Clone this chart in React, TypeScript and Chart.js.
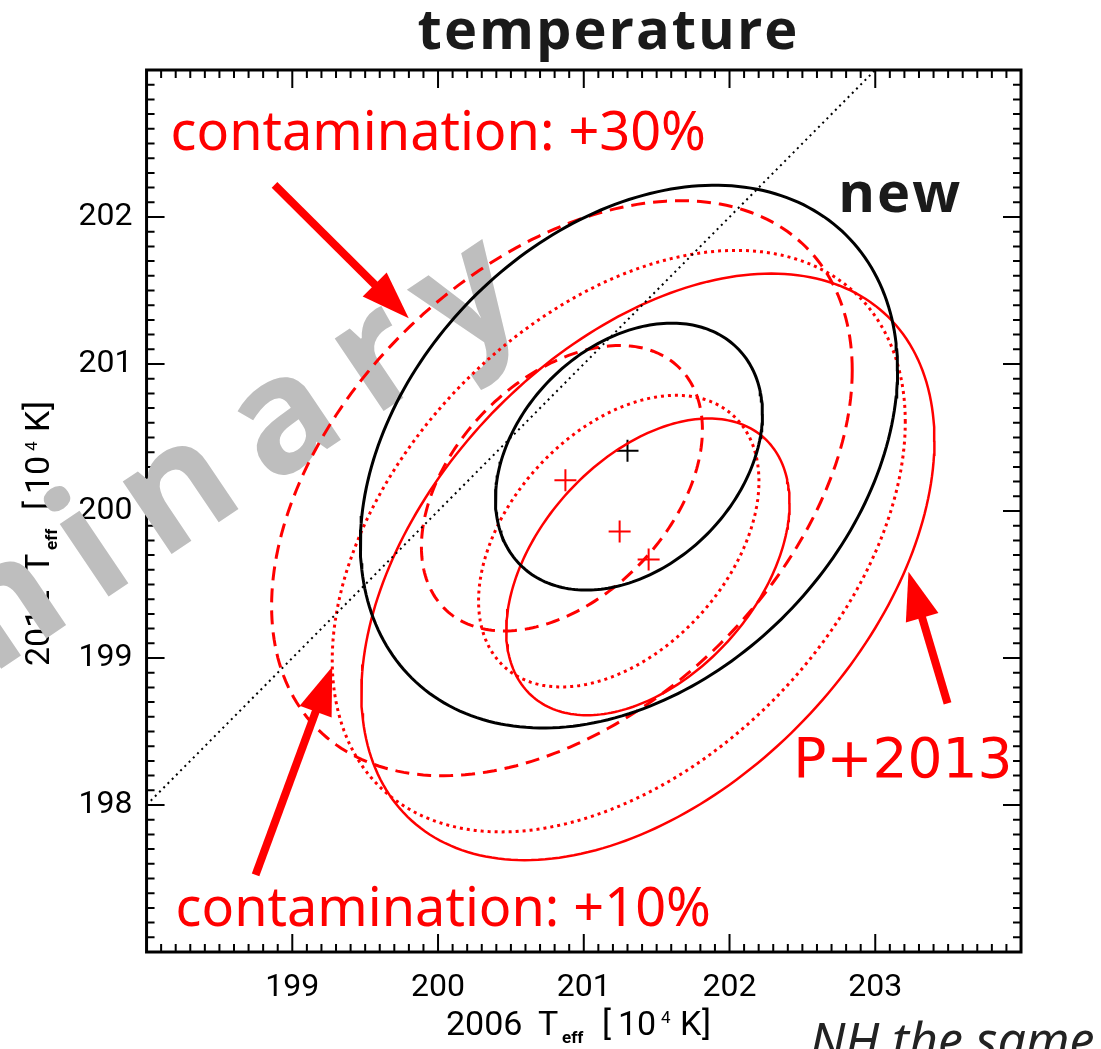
import React, { useEffect, useRef } from "react";
import { Chart, registerables } from "chart.js";

Chart.register(...registerables);

// ---------------- data ----------------
const xTickValues = [199, 200, 201, 202, 203];
const xTickLabels = ["199", "200", "201", "202", "203"];
const yTickValues = [198, 199, 200, 201, 202];
const yTickLabels = ["198", "199", "200", "201", "202"];

// confidence-ellipse groups: new (black solid), P+2013 (red solid),
// contamination +30% (red dashed), contamination +10% (red dotted)
const groupNames = ["new", "P+2013", "contamination +30%", "contamination +10%"];
const centerX = [201.31, 201.44, 200.85, 201.24];
const centerY = [200.37, 199.62, 200.155, 199.795];
const innerHalfWidth = [0.916, 0.972, 0.964, 0.962];
const innerHalfHeight = [0.908, 1.009, 0.971, 0.992];
const outerHalfWidth = [1.843, 1.966, 1.992, 1.966];
const outerHalfHeight = [1.846, 1.995, 1.956, 1.978];
const correlation = [0.32, 0.43, 0.41, 0.41];

// best-fit markers
const bestFitX = [201.3, 201.445, 200.874, 201.246];
const bestFitY = [200.41, 199.67, 200.21, 199.86];

// 1:1 line
const equalityX = [198, 203];
const equalityY = [198, 203];

// annotation texts
const noteTexts = ["contamination: +30%", "contamination: +10%", "new", "P+2013"];

// ---------------- styles / layout ----------------
const groupColors = ["#000000", "#ff0000", "#ff0000", "#ff0000"];
const groupWidths = [3, 2.5, 3, 3];
const groupDashes: number[][] = [[], [], [14, 8], [3, 4]];

// annotation placement (data units)
const NOTE_POS = [
  { x: 198.165, y: 202.456, font: '54px "Noto Sans"', color: "#ff0000", spacing: 0 },
  { x: 198.199, y: 197.177, font: '54px "Noto Sans"', color: "#ff0000", spacing: 0 },
  { x: 202.746, y: 202.036, font: 'bold 56px "Open Sans"', color: "#1a1a1a", spacing: 2 },
  { x: 202.438, y: 198.193, font: '55px "DejaVu Sans"', color: "#ff0000", spacing: 0 },
];
const ARROWS = [
  { x0: 198.878, y0: 202.218, x1: 199.799, y1: 201.311 },
  { x0: 198.748, y0: 197.524, x1: 199.274, y1: 198.941 },
  { x0: 203.496, y0: 198.692, x1: 203.228, y1: 199.587 },
];
const WATERMARK = { text: "Preliminary", pivot: 7, x: 198.1, y: 199.66, angleDeg: -34 };

const TICK_FONT = "Roboto, Arial, sans-serif";

function ellipsePoints(cx: number, cy: number, a: number, b: number, rho: number) {
  const pts: { x: number; y: number }[] = [];
  const s = Math.sqrt(1 - rho * rho);
  const n = 240;
  for (let k = 0; k <= n; k++) {
    const t = (2 * Math.PI * k) / n;
    pts.push({ x: cx + a * Math.cos(t), y: cy + b * (rho * Math.cos(t) + s * Math.sin(t)) });
  }
  return pts;
}

function drawSpaced(ctx: CanvasRenderingContext2D, text: string, x: number, y: number, spacing: number, align: "left" | "center") {
  const chars = text.split("");
  const widths = chars.map((c) => ctx.measureText(c).width);
  const total = widths.reduce((s, w) => s + w, 0) + spacing * (chars.length - 1);
  let cx = align === "center" ? x - total / 2 : x;
  ctx.textAlign = "left";
  chars.forEach((c, i) => {
    ctx.fillText(c, cx, y);
    cx += widths[i] + spacing;
  });
}

type Piece = { t: string; font: string; dx: number; dy: number };
const AXIS_TITLE_PIECES = (year: string): Piece[] => [
  { t: year, font: `34px ${TICK_FONT}`, dx: 0, dy: 0 },
  { t: "T", font: `34px ${TICK_FONT}`, dx: 92, dy: 0 },
  { t: "eff", font: `bold 17px ${TICK_FONT}`, dx: 116, dy: 8 },
  { t: "[", font: `34px ${TICK_FONT}`, dx: 156, dy: 0 },
  { t: "10", font: `34px ${TICK_FONT}`, dx: 172, dy: 0 },
  { t: "4", font: `17px ${TICK_FONT}`, dx: 215, dy: -12 },
  { t: "K", font: `34px ${TICK_FONT}`, dx: 234, dy: 0 },
  { t: "]", font: `34px ${TICK_FONT}`, dx: 256, dy: 0 },
];

function drawPieces(ctx: CanvasRenderingContext2D, pieces: Piece[]) {
  ctx.textAlign = "left";
  ctx.textBaseline = "alphabetic";
  pieces.forEach((p) => {
    ctx.font = p.font;
    ctx.fillText(p.t, p.dx, p.dy);
  });
}

const decorPlugin = {
  id: "decor",
  beforeDatasetsDraw(chart: any) {
    const { ctx, chartArea: ca, scales } = chart;
    const xs = scales.x;
    const ys = scales.y;
    ctx.save();
    // inward tick marks on all four sides
    ctx.strokeStyle = "#000";
    ctx.lineWidth = 2;
    ctx.beginPath();
    for (let i = 1; i < 60; i++) {
      const len = i % 10 === 0 ? 18 : 8;
      const px = xs.getPixelForValue(xs.min + i / 10);
      ctx.moveTo(px, ca.bottom);
      ctx.lineTo(px, ca.bottom - len);
      ctx.moveTo(px, ca.top);
      ctx.lineTo(px, ca.top + len);
      const py = ys.getPixelForValue(ys.min + i / 10);
      ctx.moveTo(ca.left, py);
      ctx.lineTo(ca.left + len, py);
      ctx.moveTo(ca.right, py);
      ctx.lineTo(ca.right - len, py);
    }
    ctx.stroke();
    ctx.lineWidth = 3;
    ctx.strokeRect(ca.left, ca.top, ca.right - ca.left, ca.bottom - ca.top);

    // axis titles
    ctx.fillStyle = "#000";
    ctx.save();
    ctx.translate(446, 1035);
    drawPieces(ctx, AXIS_TITLE_PIECES("2006"));
    ctx.restore();
    ctx.save();
    ctx.translate(49, 666);
    ctx.rotate(-Math.PI / 2);
    drawPieces(ctx, AXIS_TITLE_PIECES("2012"));
    ctx.restore();

    // chart title
    ctx.fillStyle = "#1a1a1a";
    ctx.font = 'bold 56px "Open Sans"';
    ctx.textBaseline = "alphabetic";
    drawSpaced(ctx, "temperature", 607.5, 49, 2, "center");

    // watermark
    ctx.save();
    ctx.translate(xs.getPixelForValue(WATERMARK.x), ys.getPixelForValue(WATERMARK.y));
    ctx.rotate((WATERMARK.angleDeg * Math.PI) / 180);
    ctx.font = 'bold 160px "Open Sans"';
    ctx.fillStyle = "#bebebe";
    const spacing = 27;
    const chars = WATERMARK.text.split("");
    let offset = 0;
    for (let i = 0; i < WATERMARK.pivot; i++) offset += ctx.measureText(chars[i]).width + spacing;
    let cx = -offset;
    chars.forEach((c) => {
      ctx.fillText(c, cx, 0);
      cx += ctx.measureText(c).width + spacing;
    });
    ctx.restore();
    ctx.restore();
  },
  afterDatasetsDraw(chart: any) {
    const { ctx, scales } = chart;
    const xs = scales.x;
    const ys = scales.y;
    ctx.save();
    // arrows
    ctx.fillStyle = "#ff0000";
    ctx.strokeStyle = "#ff0000";
    ARROWS.forEach((a) => {
      const x0 = xs.getPixelForValue(a.x0);
      const y0 = ys.getPixelForValue(a.y0);
      const x1 = xs.getPixelForValue(a.x1);
      const y1 = ys.getPixelForValue(a.y1);
      const L = Math.hypot(x1 - x0, y1 - y0);
      const ux = (x1 - x0) / L;
      const uy = (y1 - y0) / L;
      const headLen = 48;
      const headW = 34;
      const bx = x1 - ux * headLen;
      const by = y1 - uy * headLen;
      ctx.lineWidth = 8;
      ctx.lineCap = "butt";
      ctx.beginPath();
      ctx.moveTo(x0, y0);
      ctx.lineTo(bx + ux * 3, by + uy * 3);
      ctx.stroke();
      ctx.beginPath();
      ctx.moveTo(x1, y1);
      ctx.lineTo(bx - (uy * headW) / 2, by + (ux * headW) / 2);
      ctx.lineTo(bx + (uy * headW) / 2, by - (ux * headW) / 2);
      ctx.closePath();
      ctx.fill();
    });
    // notes
    ctx.textBaseline = "alphabetic";
    noteTexts.forEach((t, i) => {
      const p = NOTE_POS[i];
      ctx.font = p.font;
      ctx.fillStyle = p.color;
      drawSpaced(ctx, t, xs.getPixelForValue(p.x), ys.getPixelForValue(p.y), p.spacing, "left");
    });
    // footer remark
    ctx.font = 'italic 50px "Noto Sans"';
    ctx.fillStyle = "#222";
    ctx.textAlign = "left";
    ctx.fillText("NH the same", 810, 1058);
    ctx.restore();
  },
};

function buildDatasets() {
  const ds: any[] = [];
  ds.push({
    label: "1:1",
    data: equalityX.map((x, i) => ({ x, y: equalityY[i] })),
    showLine: true,
    borderColor: "#000",
    borderWidth: 2,
    borderDash: [2, 4],
    pointRadius: 0,
    fill: false,
  });
  groupNames.forEach((name, g) => {
    [
      [innerHalfWidth[g], innerHalfHeight[g]],
      [outerHalfWidth[g], outerHalfHeight[g]],
    ].forEach(([a, b], k) => {
      ds.push({
        label: `${name} ${k === 0 ? "inner" : "outer"}`,
        data: ellipsePoints(centerX[g], centerY[g], a, b, correlation[g]),
        showLine: true,
        borderColor: groupColors[g],
        borderWidth: groupWidths[g],
        borderDash: groupDashes[g],
        pointRadius: 0,
        tension: 0,
        fill: false,
      });
    });
  });
  groupNames.forEach((name, g) => {
    ds.push({
      label: `${name} best fit`,
      data: [{ x: bestFitX[g], y: bestFitY[g] }],
      showLine: false,
      pointStyle: "cross",
      pointRadius: 11,
      borderColor: groupColors[g],
      borderWidth: 2,
    });
  });
  return ds;
}

export default function App() {
  const ref = useRef<HTMLCanvasElement>(null);
  useEffect(() => {
    if (!ref.current) return;
    const chart = new Chart(ref.current, {
      type: "scatter",
      data: { datasets: buildDatasets() },
      options: {
        responsive: false,
        animation: false,
        events: [],
        layout: { padding: { left: 64.6, right: 80, top: 70, bottom: 24.6 } },
        plugins: {
          legend: { display: false },
          tooltip: { enabled: false },
          title: { display: false },
        },
        scales: {
          x: {
            type: "linear",
            min: 198,
            max: 204,
            afterBuildTicks: (s: any) => {
              s.ticks = xTickValues.map((value) => ({ value }));
            },
            ticks: {
              font: { family: TICK_FONT, size: 32 },
              color: "#000",
              padding: 17,
              maxRotation: 0,
              autoSkip: false,
              callback: (v: any) => xTickLabels[xTickValues.indexOf(Number(v))] ?? "",
            },
            grid: { display: false, drawTicks: false },
            border: { display: false },
          },
          y: {
            type: "linear",
            min: 197,
            max: 203,
            afterBuildTicks: (s: any) => {
              s.ticks = yTickValues.map((value) => ({ value }));
            },
            ticks: {
              font: { family: TICK_FONT, size: 32 },
              color: "#000",
              padding: 14,
              autoSkip: false,
              callback: (v: any) => yTickLabels[yTickValues.indexOf(Number(v))] ?? "",
            },
            grid: { display: false, drawTicks: false },
            border: { display: false },
          },
        },
      },
      plugins: [decorPlugin],
    } as any);
    return () => chart.destroy();
  }, []);
  return (
    <div style={{ position: "absolute", left: 0, top: 0, width: 1101, height: 1049, background: "#fff" }}>
      <canvas ref={ref} width={1101} height={1049} style={{ display: "block" }} />
    </div>
  );
}
